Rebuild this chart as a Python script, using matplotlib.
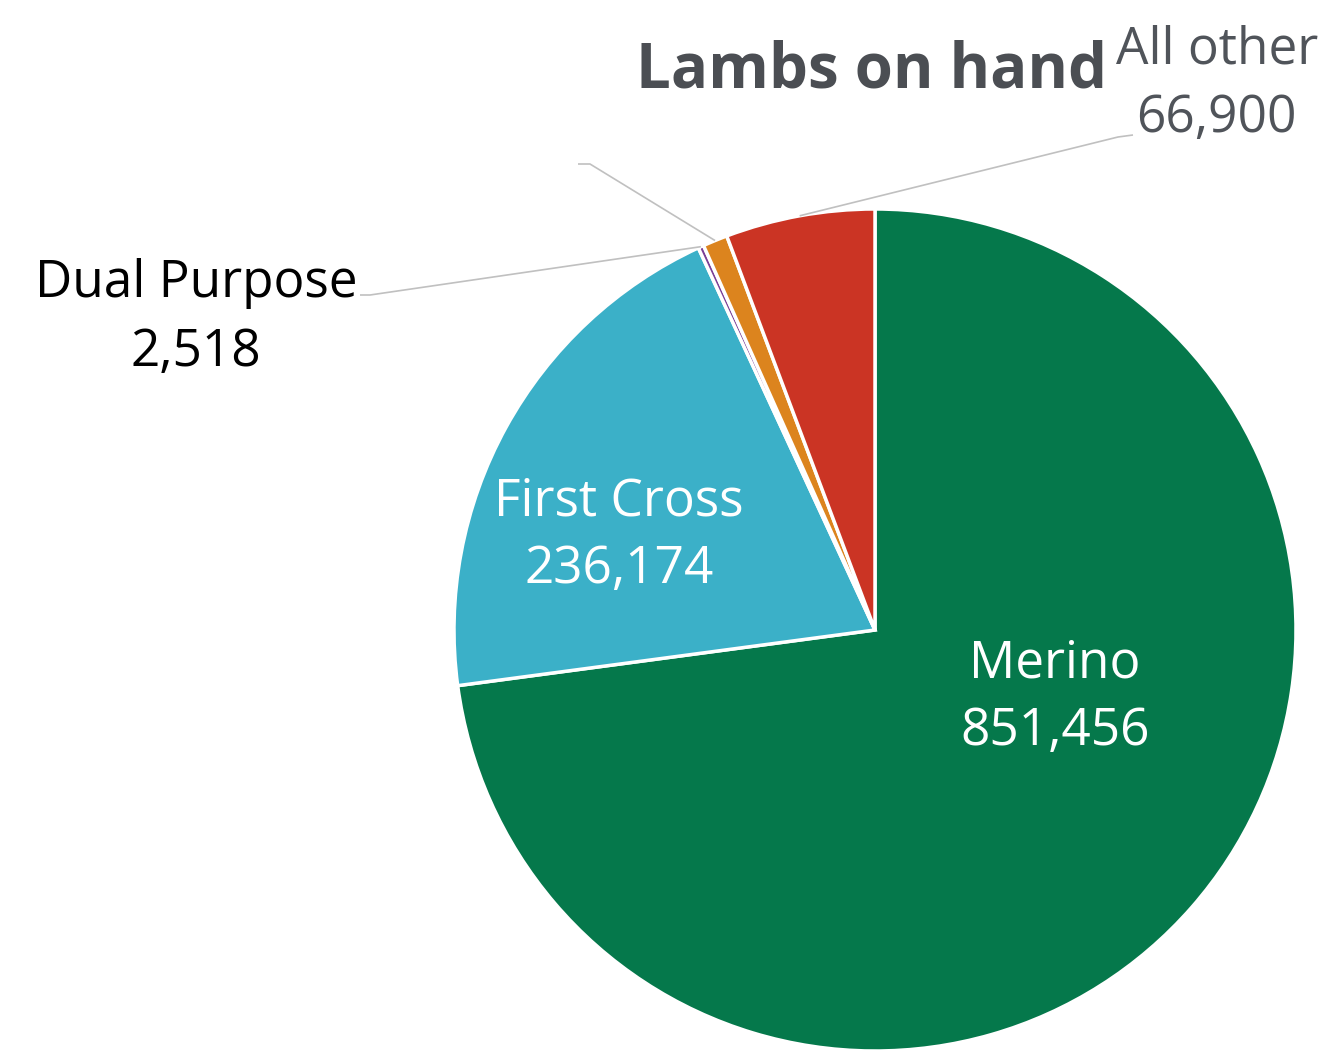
import numpy as np
import matplotlib
matplotlib.use("Agg")
import matplotlib.pyplot as plt

plt.rcParams["font.family"] = ["Open Sans", "DejaVu Sans"]

# Lambs on hand, by breed
categories = ["Merino", "First Cross", "Dual Purpose", "", "All other"]
values = [851456, 236174, 2518, 11100, 66900]
colors = ["#05784B", "#3BB0C8", "#7B3F96", "#DC841E", "#CB3424"]

W, H = 1332, 1050
fig = plt.figure(figsize=(W / 100, H / 100), dpi=100)
ax = fig.add_axes([0, 0, 1, 1])
ax.set_xlim(0, W)
ax.set_ylim(0, H)
ax.set_aspect("equal")
ax.axis("off")

center = (875, H - 630)
radius = 421
wedges, _ = ax.pie(values, colors=colors, startangle=90, counterclock=False,
                   center=center, radius=radius, frame=True,
                   wedgeprops=dict(edgecolor="white", linewidth=2.5))
ax.set_xlim(0, W)
ax.set_ylim(0, H)
ax.axis("off")


def fmt(v):
    return f"{v:,}"


def arc_point(w, r_frac=1.0):
    mid = np.deg2rad((w.theta1 + w.theta2) / 2)
    return (center[0] + radius * r_frac * np.cos(mid),
            center[1] + radius * r_frac * np.sin(mid))


fs = 37
# inside labels (white)
ax.text(1055, H - 677, categories[0], color="white", fontsize=fs, ha="center", va="baseline")
ax.text(1055, H - 745, fmt(values[0]), color="white", fontsize=fs, ha="center", va="baseline")
ax.text(619, H - 515, categories[1], color="white", fontsize=fs, ha="center", va="baseline")
ax.text(619, H - 583, fmt(values[1]), color="white", fontsize=fs, ha="center", va="baseline")

# outside labels with leader lines
ax.text(196, H - 297, categories[2], color="black", fontsize=fs, ha="center", va="baseline")
ax.text(196, H - 366, fmt(values[2]), color="black", fontsize=fs, ha="center", va="baseline")
ax.text(1217, H - 63, categories[4], color="#50545A", fontsize=fs, ha="center", va="baseline")
ax.text(1216, H - 132, fmt(values[4]), color="#50545A", fontsize=fs, ha="center", va="baseline")

line_kw = dict(color="#C0C0C0", linewidth=1.2, solid_capstyle="butt")
# Dual Purpose
px, py = arc_point(wedges[2])
ax.plot([360, 370, px], [H - 295, H - 295, py], **line_kw)
# unlabelled slice
px, py = arc_point(wedges[3])
ax.plot([578, 590, px], [H - 164, H - 164, py], **line_kw)
# All other
px, py = arc_point(wedges[4])
ax.plot([1133, 1118, px], [H - 135, H - 137, py], **line_kw)

ax.text(872, H - 88, "Lambs on hand", color="#4B4E53", fontsize=44.5, fontweight="bold",
        ha="center", va="baseline")

fig.savefig("out.png", dpi=100)
